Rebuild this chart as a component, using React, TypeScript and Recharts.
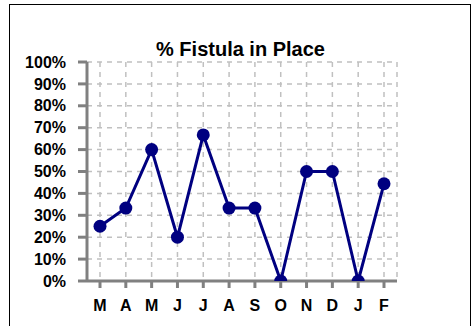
import { LineChart, Line, XAxis, YAxis, CartesianGrid } from 'recharts';

const months = ['M', 'A', 'M', 'J', 'J', 'A', 'S', 'O', 'N', 'D', 'J', 'F'];
const fistulaPct = [25, 33.3, 60, 20, 66.7, 33.3, 33.3, 0, 50, 50, 0, 44.4];
const yTicks = [0, 10, 20, 30, 40, 50, 60, 70, 80, 90, 100];

const data = months.map((m, i) => ({ key: i, month: m, value: fistulaPct[i] }));

const FONT = '"Liberation Sans", Arial, sans-serif';
const AXIS = '#808080';

export default function App() {
  return (
    <div
      style={{
        position: 'absolute',
        left: 0,
        top: 0,
        width: 474,
        height: 326,
        overflow: 'hidden',
        background: '#fff',
        fontFamily: FONT,
      }}
    >
      <div
        style={{
          position: 'absolute',
          left: 9,
          top: 4,
          width: 460,
          height: 340,
          border: '1.5px solid #000',
        }}
      />
      <div
        style={{
          position: 'absolute',
          left: 0,
          width: 481,
          top: 37,
          textAlign: 'center',
          fontSize: 20,
          fontWeight: 'bold',
          lineHeight: '24px',
          color: '#000',
        }}
      >
        % Fistula in Place
      </div>
      <div style={{ position: 'absolute', left: 0, top: 0 }}>
        <LineChart
          width={474}
          height={326}
          data={data}
          margin={{ top: 62, right: 77, bottom: 0, left: 0 }}
        >
          <CartesianGrid stroke='#c0c0c0' strokeDasharray='5 5' strokeWidth={1.5} />
          <XAxis
            dataKey='key'
            type='category'
            height={45}
            padding={{ left: 13, right: 13 }}
            tickFormatter={(i: number) => months[i]}
            axisLine={{ stroke: AXIS, strokeWidth: 3 }}
            tickLine={{ stroke: AXIS, strokeWidth: 3 }}
            tickSize={7}
            tickMargin={12}
            tick={{ fill: '#000', fontSize: 16, fontWeight: 'bold', fontFamily: FONT }}
            interval={0}
          />
          <XAxis
            xAxisId='top'
            orientation='top'
            dataKey='key'
            height={0}
            tick={false}
            tickLine={false}
            axisLine={{ stroke: AXIS, strokeWidth: 2 }}
          />
          <YAxis
            domain={[0, 100]}
            ticks={yTicks}
            allowDataOverflow
            width={87}
            tickFormatter={(v: number) => `${v}%`}
            axisLine={{ stroke: AXIS, strokeWidth: 3 }}
            tickLine={{ stroke: AXIS, strokeWidth: 3 }}
            tickSize={9}
            tickMargin={12}
            tick={{ fill: '#000', fontSize: 16, fontWeight: 'bold', fontFamily: FONT }}
            interval={0}
          />
          <YAxis
            yAxisId='right'
            orientation='right'
            width={0}
            domain={[0, 100]}
            tick={false}
            tickLine={false}
            axisLine={{ stroke: AXIS, strokeWidth: 2 }}
          />
          <Line
            dataKey='value'
            stroke='#000080'
            strokeWidth={3}
            dot={{ r: 6.5, fill: '#000080', stroke: 'none' }}
            activeDot={false}
            isAnimationActive={false}
          />
        </LineChart>
      </div>
    </div>
  );
}
